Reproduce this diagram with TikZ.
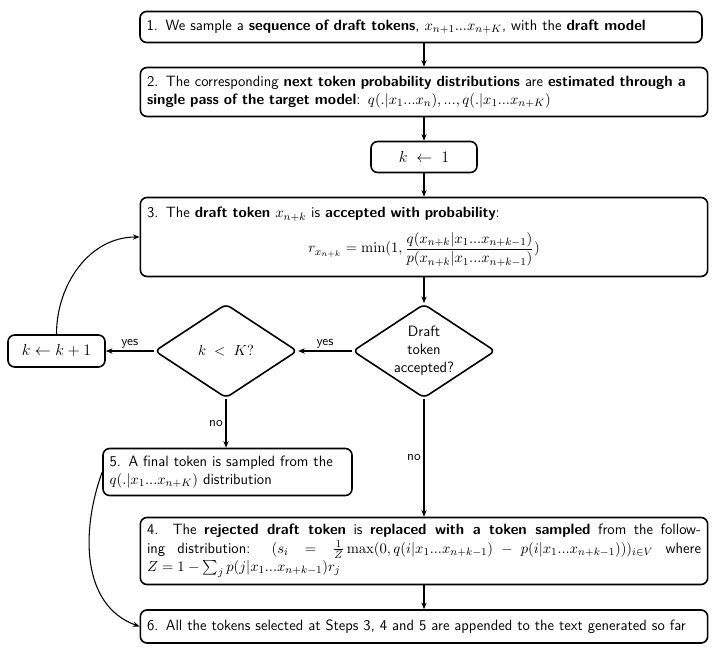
\documentclass[tikz,border=0pt]{standalone}
\usepackage{amsmath}
\usetikzlibrary{arrows.meta,shapes.geometric,positioning}
\tikzset{
  stepbox/.style={draw, rounded corners=5pt, line width=1.2pt,
    font=\sffamily\fontsize{11.2}{13.6}\selectfont, inner xsep=5pt, inner ysep=3pt,
    align=left, text width=415.5pt},
  smallbox/.style={draw, rounded corners=5pt, line width=1.2pt,
    font=\fontsize{11.8}{14}\selectfont, align=center},
  decision/.style={draw, diamond, aspect=1.5, rounded corners=4pt, line width=1.2pt,
    minimum width=107pt, minimum height=70.5pt, inner sep=0pt,
    font=\sffamily\fontsize{11.2}{13.6}\selectfont, align=center},
  flow/.style={-{Stealth[length=5pt, width=4pt]}, line width=0.8pt},
  tag/.style={font=\sffamily\fontsize{10}{12}\selectfont, inner sep=2pt}
}
\begin{document}
\begin{tikzpicture}[x=0.75pt, y=-0.75pt]
  \useasboundingbox (0,0) rectangle (717,656);
  % main chain
  \node[stepbox, text width=411.5pt, minimum height=23.25pt] (sample) at (421,27)
    {1. We sample a \textbf{sequence of draft tokens}, $x_{n+1}...x_{n+K}$, with the \textbf{draft model}};
  \node[stepbox, minimum height=36.75pt] (prob) at (424,92)
    {2. The corresponding \textbf{next token probability distributions} are \textbf{estimated through a single pass of the target model}: $q(.|x_1...x_n), ..., q(.|x_1...x_{n+K})$};
  \node[smallbox, minimum width=79.5pt, minimum height=23.25pt] (kone) at (424,157)
    {$k \;\leftarrow\; 1$};
  \node[stepbox, minimum height=59.25pt] (accept) at (424,237)
    {3. The \textbf{draft token} $x_{n+k}$ is \textbf{accepted with probability}:\\[7pt]
     \centerline{$\displaystyle r_{x_{n+k}} = \min(1, \frac{q(x_{n+k}|x_1...x_{n+k-1})}{p(x_{n+k}|x_1...x_{n+k-1})})$}};
  % decisions
  \node[decision] (check) at (424,351) {Draft\\token\\accepted?};
  \node[decision] (kless) at (226,351) {$k \;<\; K?$};
  \node[smallbox, minimum width=72.75pt, minimum height=24pt] (kinc) at (56.5,351)
    {$k \leftarrow k+1$};
  % end steps
  \node[stepbox, text width=176.75pt, minimum height=35.25pt] (final) at (227.5,472)
    {5. A final token is sampled from the $q(.|x_1...x_{n+K})$ distribution};
  \node[stepbox, align=justify, minimum height=50.25pt] (replace) at (424,551)
    {4. The \textbf{rejected draft token} is \textbf{replaced with a token sampled} from the follow-\linebreak ing distribution: $(s_i = \frac{1}{Z}\max(0, q(i|x_1...x_{n+k-1}) - p(i|x_1...x_{n+k-1})))_{i\in V}$ where\linebreak $Z = 1 - \sum_j p(j|x_1...x_{n+k-1}) r_j$};
  \node[stepbox, minimum height=24.75pt] (append) at (424,626.5)
    {6. All the tokens selected at Steps 3, 4 and 5 are appended to the text generated so far};
  % connectors
  \draw[flow] (sample.south -| prob.north) -- (prob.north);
  \draw[flow] (prob) -- (kone);
  \draw[flow] (kone) -- (accept);
  \draw[flow] (accept) -- (check);
  \draw[flow] (check) -- node[tag, above] {yes} (kless);
  \draw[flow] (kless) -- node[tag, above] {yes} (kinc);
  \draw[flow] (kinc.north) to[out=90, in=180] (accept.west);
  \draw[flow] (kless.south) -- node[tag, left] {no} (kless.south |- final.north);
  \draw[flow] (check) -- node[tag, left] {no} (replace);
  \draw[flow] (replace) -- (append);
  \draw[flow] (final.west) to[out=250, in=160] (append.west);
\end{tikzpicture}
\end{document}
